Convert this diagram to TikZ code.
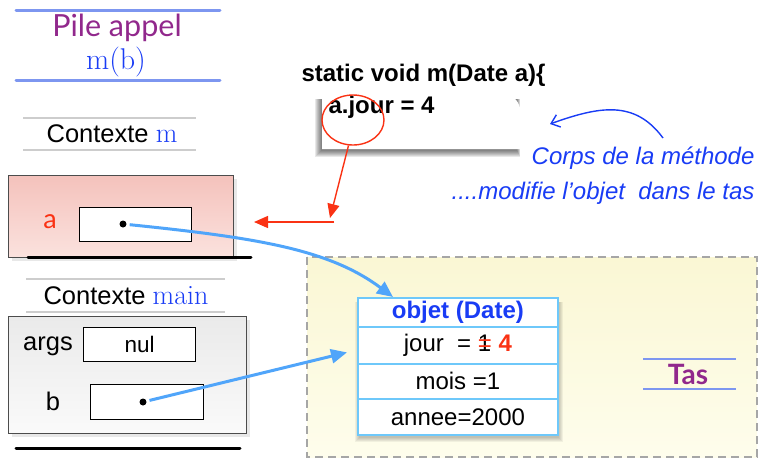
\documentclass[tikz,border=0pt]{standalone}
\usepackage{fontspec}
\setsansfont{Liberation Sans}
\newfontfamily\humfont{Lato}
\usetikzlibrary{arrows.meta,shapes.geometric,shadows}

\definecolor{pilepurple}{RGB}{145,40,140}
\definecolor{tblue}{RGB}{25,60,245}
\definecolor{pilecol}{RGB}{125,150,240}
\definecolor{ptrblue}{RGB}{80,165,250}
\definecolor{callred}{RGB}{250,50,20}
\definecolor{objborder}{RGB}{110,200,250}
\definecolor{sepgray}{RGB}{205,205,205}
\definecolor{pinkA}{RGB}{244,194,188}
\definecolor{pinkB}{RGB}{251,226,222}
\definecolor{grayA}{RGB}{234,234,234}
\definecolor{grayB}{RGB}{250,250,250}
\definecolor{tasA}{RGB}{250,247,212}
\definecolor{tasB}{RGB}{254,253,236}

\tikzset{
  framebox/.style={draw=black!70, line width=1.2pt, anchor=north west, inner sep=0pt,
    drop shadow={shadow xshift=3pt, shadow yshift=-3pt, opacity=0.18}},
  valbox/.style={draw=black, line width=1.3pt, fill=white, anchor=north west, inner sep=0pt},
  ptrdot/.style={circle, fill=black, inner sep=0pt, minimum size=7pt},
  pilerule/.style={pilecol, line width=3pt, line cap=round},
  sepline/.style={sepgray, line width=1.5pt},
  stackbase/.style={black, line width=3pt, line cap=round},
  ptr/.style={ptrblue, line width=3pt, -{Triangle[length=16pt,width=14pt]}, shorten <=3pt},
  redarrow/.style={callred, line width=1.4pt, -{Triangle[length=14pt,width=12pt]}},
  notearrow/.style={tblue, line width=1.4pt, -{Straight Barb[length=8pt,width=13pt]}},
  objrow/.style={draw=objborder, line width=1.8pt, fill=white, anchor=north west,
    minimum width=200pt, inner sep=0pt},
  base/.style={font=\sffamily\fontsize{24}{28}\selectfont},
  ctxfont/.style={font=\sffamily\fontsize{25.5}{30}\selectfont},
}

\begin{document}
\begin{tikzpicture}[x=1pt, y=-1pt, base]
\useasboundingbox (0,0) rectangle (761,461);

% ---- heap area
\draw[gray!70, line width=2pt, dash pattern=on 8pt off 5pt,
      top color=tasA, bottom color=tasB] (307,257) rectangle (757,457);
\draw[pilerule, line width=1.6pt, line cap=butt] (643,359) -- (736,359);
\draw[pilerule, line width=1.6pt, line cap=butt] (643,389) -- (736,389);
\node[text=pilepurple, font=\humfont\bfseries\fontsize{28}{30}\selectfont] (tas) at (688,374) {Tas};

% ---- call stack title
\draw[pilerule] (16,10) -- (220,10);
\draw[pilerule] (16,80) -- (220,80);
\node[text=pilepurple, font=\humfont\fontsize{30.5}{34}\selectfont] (pile) at (117,28) {Pile appel};
\node[text=tblue, font=\rmfamily\fontsize{30}{34}\selectfont] (mb) at (116,62) {m(b)};

% ---- frame of m
\draw[sepline] (23,118) -- (196,118);
\draw[sepline] (23,150) -- (196,150);
\node[ctxfont] (ctxm) at (112,134) {Contexte {\rmfamily\fontsize{28}{30}\selectfont\color{tblue}m}};
\node[framebox, minimum width=225pt, minimum height=82pt,
      top color=pinkA, bottom color=pinkB] (framem) at (8,175) {};
\draw[stackbase] (28,257) -- (251,257);
\node[text=callred, font=\humfont\fontsize{27}{30}\selectfont] (lbla) at (50,222) {a};
\node[valbox, minimum width=112pt, minimum height=34pt] (boxa) at (79,207) {};
\node[ptrdot] (dota) at (123,224) {};

% ---- frame of main
\draw[sepline] (26,279) -- (225,279);
\draw[sepline] (26,312) -- (225,312);
\node[ctxfont] (ctxmain) at (126,296) {Contexte {\rmfamily\fontsize{28}{30}\selectfont\color{tblue}main}};
\node[framebox, minimum width=238pt, minimum height=117pt,
      top color=grayA, bottom color=grayB] (framemain) at (8,316) {};
\draw[stackbase] (16,448) -- (240,448);
\node[ctxfont] (lblargs) at (48,346) {args};
\node[valbox, minimum width=112pt, minimum height=34pt] (boxargs) at (83,327) {};
\node[font=\sffamily\fontsize{22.5}{26}\selectfont] (nul) at (boxargs.center) {nul};
\node[ctxfont] (lblb) at (53,401) {b};
\node[valbox, minimum width=113pt, minimum height=35pt] (boxb) at (90,384) {};
\node[ptrdot] (dotb) at (143,402) {};

% ---- object in the heap
\foreach \d in {0,...,4}
  \fill[black, opacity=0.05] (359-\d,302) rectangle (559+\d,438+\d);
\node[objrow, minimum height=29pt, font=\sffamily\bfseries\fontsize{24}{28}\selectfont,
      text=tblue] (hdr) at (357,297) {objet (Date)};
\node[objrow, minimum height=37pt] (jour) at (357,326)
  {jour~~=~\rlap{1}\textcolor{callred}{=}~\textcolor{callred}{\bfseries 4}};
\node[objrow, minimum height=35pt] (mois) at (357,363) {mois =1};
\node[objrow, minimum height=36pt] (annee) at (357,398) {annee=2000};

% ---- method body
\node[anchor=west, font=\sffamily\bfseries\fontsize{24}{28}\selectfont] (sig) at (298,75)
  {static void m(Date a)\{};
% soft shadow of the note sheet
\foreach \d in {0,...,6}
  \fill[black, opacity=0.09] (321-\d,99) rectangle (517+0.5*\d,151+\d);
\fill[white]
  (322,94) -- (503,94) .. controls (512,94) and (518,100) .. (520,108) -- (520,149) -- (322,149) -- cycle;
\node[anchor=west, font=\sffamily\bfseries\fontsize{24}{28}\selectfont] (stmt) at (325,107)
  {a.jour = 4};
\node[ellipse, draw=callred, line width=1.4pt, minimum width=62pt, minimum height=50pt,
      inner sep=0pt] (circ) at (353,120) {};

% ---- red arrows from the statement to parameter a
\coordinate (rcorner) at (330,218);
\coordinate (rstart) at (334,222);
\coordinate (rend) at (254,222);
\draw[redarrow] (circ.260) -- (rcorner);
\draw[redarrow] (rstart) -- (rend);

% ---- references
\draw[ptr] (dota) .. controls (260,238) and (330,250) .. ([xshift=36pt]hdr.north west);
\draw[ptr] (dotb) -- ([xshift=-10pt,yshift=-7pt]jour.west);

% ---- notes
\node[anchor=east, text=tblue, font=\sffamily\itshape\fontsize{24}{28}\selectfont] (note1) at (758,158)
  {Corps de la méthode};
\node[anchor=east, text=tblue, font=\sffamily\itshape\fontsize{24}{28}\selectfont] (note2) at (758,193)
  {....modifie l{\char"27}objet~~dans le tas};
\coordinate (nstart) at (663,138);
\coordinate (nend) at (550,124);
\draw[notearrow] (nstart) .. controls (635,100) and (600,106) .. (nend);
\end{tikzpicture}
\end{document}
